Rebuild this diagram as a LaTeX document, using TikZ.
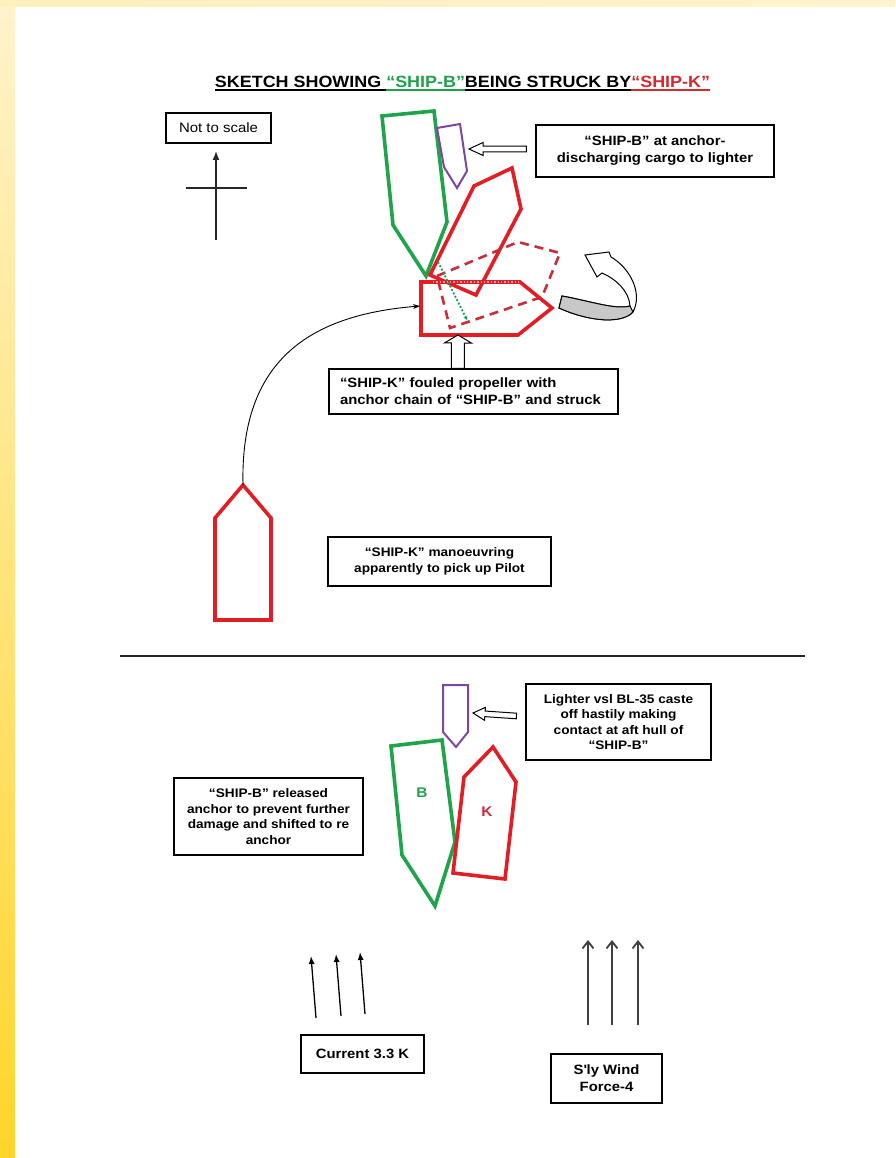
\documentclass[tikz,border=0pt]{standalone}
\usepackage{fontspec}
\setmainfont{Liberation Sans}[FakeStretch=1.1]
\usepackage{tikz}
\usetikzlibrary{arrows.meta,calc,positioning}
\definecolor{ShipGreen}{RGB}{30,165,75}
\definecolor{ShipRed}{RGB}{226,30,36}
\definecolor{GhostRed}{RGB}{200,45,60}
\definecolor{LighterPurple}{RGB}{125,70,160}
\definecolor{PageYellow}{RGB}{255,213,42}
\definecolor{PaleYellow}{RGB}{255,243,204}
\definecolor{BandGrey}{RGB}{200,200,200}
\definecolor{TitleGreen}{RGB}{34,160,75}
\definecolor{TitleRed}{RGB}{215,40,47}
\newcommand{\titlerule}[1]{\vtop{\hbox{#1}\kern1.2pt\hrule height1.7pt}}
\newcommand{\blockarrow}[5]{%
  \coordinate (headbase) at ($(#2)!#3!(#1)$);
  \draw[line width=1pt,fill=white] (#2) -- ($(headbase)!#4!90:(#1)$) -- ($(headbase)!#5!90:(#1)$)
    -- ($(#1)!#5!-90:(#2)$) -- ($(#1)!#5!90:(#2)$) -- ($(headbase)!#5!-90:(#1)$)
    -- ($(headbase)!#4!-90:(#1)$) -- cycle;}

\begin{document}
\begin{tikzpicture}[x=1pt,y=-1pt,
  labelbox/.style={draw,line width=1.1pt,align=center,inner sep=3pt,
    font=\fontsize{13.5}{17}\selectfont\bfseries},
  smallbox/.style={labelbox,font=\fontsize{12.4}{15.5}\selectfont\bfseries},
  notebox/.style={draw,line width=1.1pt,inner sep=3pt,font=\fontsize{13.6}{16}\selectfont},
  hull/.style={line width=3.6pt,line join=miter},
  ghosthull/.style={line width=2.6pt,GhostRed,dash pattern=on 9pt off 6pt},
  lighterhull/.style={line width=2pt,LighterPurple},
  current/.style={line width=1.3pt,-{Latex[length=8pt,width=6pt]}},
  wind/.style={line width=1.8pt,black!75,-{Straight Barb[length=7pt,width=11pt]}}]
  \useasboundingbox (0,0) rectangle (895,1158);
  \fill[white] (0,0) rectangle (895,1158);
  \shade[top color=PaleYellow,bottom color=PageYellow] (0,0) rectangle (15,1158);
  \shade[left color=PaleYellow!90!PageYellow,right color=PaleYellow] (0,0) rectangle (895,7);

  \node[anchor=base,font=\fontsize{16.3}{20}\selectfont\bfseries] (title) at (462.5,87.5)
    {\titlerule{SKETCH SHOWING }\textcolor{TitleGreen}{\titlerule{“SHIP-B”}}\titlerule{BEING STRUCK BY}\textcolor{TitleRed}{\titlerule{“SHIP-K”}}};

  \node[notebox,minimum width=105pt,minimum height=30pt] (notscale) at (218.5,128) {Not to scale};
  \draw[line width=1.3pt,black!85,-{Latex[length=9pt,width=7pt]}] (216,240) -- (216,151);
  \draw[line width=1.3pt,black!85] (186,188) -- (247,188);

  \draw[hull,ShipGreen] (382,116) -- (434,111) -- (447,222) -- (426,276) -- (393,225) -- cycle;
  \draw[lighterhull] (437,128) -- (460,124) -- (467,171) -- (457,188) -- (444,167) -- cycle;
  \draw[hull,ShipRed] (430,275) -- (474,186) -- (512,168) -- (521,209) -- (476,295) -- cycle;
  \draw[ghosthull] (437,276) -- (518,242) -- (560,253) -- (542,297) -- (450,328) -- cycle;
  \draw[hull,ShipRed] (421,282) -- (520,282) -- (552,308) -- (518,335) -- (421,335) -- cycle;
  \draw[GhostRed!45,dotted,line width=1.4pt] (433,282) -- (520,282);
  \draw[ShipGreen!70!teal,dotted,line width=1.8pt,-{Stealth[length=4pt,width=4pt]}] (438,262) -- (467,320);

  \node[labelbox,minimum width=238pt,minimum height=52pt] (lblanchor) at (655,151)
    {“SHIP-B” at anchor-\\discharging cargo to lighter};
  \coordinate (lightertip) at (469,149);
  \coordinate (anchortail) at ($(lblanchor.west)+(-9,-2)$);
  \blockarrow{anchortail}{lightertip}{14pt}{6.5pt}{2.8pt}

  \draw[line width=1pt,fill=white] (630,306) .. controls (629,291) and (616,279) .. (602,273)
    -- (597,277) -- (585,255) -- (609,252) -- (611,257)
    .. controls (630,268) and (643,293) .. (633,312)
    .. controls (622,324) and (590,322) .. (559,308) -- (562,296)
    .. controls (590,301) and (615,310) .. (630,306) -- cycle;
  \draw[line width=1pt,fill=BandGrey] (562,296) .. controls (590,301) and (615,310) .. (630,306)
    -- (633,312) .. controls (622,324) and (590,322) .. (559,308) -- cycle;

  \node[labelbox,align=left,text width=267pt,inner xsep=11pt,minimum height=45pt] (lblfouled) at (473.5,391.5)
    {“SHIP-K” fouled propeller with\\anchor chain of “SHIP-B” and struck};
  \coordinate (fouledtip) at (458,335);
  \coordinate (fouledtail) at ($(lblfouled.north west)!0.446!(lblfouled.north east)$);
  \blockarrow{fouledtail}{fouledtip}{8pt}{13.5pt}{6.5pt}

  \coordinate (kbow) at (243,485);
  \coordinate (kstern) at (420,306);
  \draw[hull,ShipRed] (215,620) -- (215,518) -- (kbow) -- (271,518) -- (271,620) -- cycle;
  \draw[line width=0.9pt,-{Stealth[length=7pt,width=5pt]}] (kbow) .. controls (240,360) and (310,315) .. (kstern);

  \node[smallbox,minimum width=223pt,minimum height=49pt] (lblpilot) at (439.5,561.5)
    {“SHIP-K” manoeuvring\\apparently to pick up Pilot};

  \draw[line width=2pt,black!85] (120,656) -- (805,656);

  \draw[lighterhull] (443,685) -- (468,685) -- (468,732) -- (456,747) -- (443,732) -- cycle;
  \draw[hull,ShipGreen] (391,746) -- (442,740) -- (455,842) -- (435,906) -- (402,855) -- cycle;
  \draw[hull,ShipRed] (453,873) -- (464,777) -- (493,747) -- (516,782) -- (505,879) -- cycle;
  \node[font=\fontsize{14}{16}\selectfont\bfseries,TitleGreen] (nameB) at (422,793) {B};
  \node[font=\fontsize{14}{16}\selectfont\bfseries,GhostRed] (nameK) at (487,812) {K};

  \node[smallbox,minimum width=185pt,minimum height=76pt] (lbllighter) at (618.5,722)
    {Lighter vsl BL-35 caste\\off hastily making\\contact at aft hull of\\“SHIP-B”};
  \coordinate (lighterbow) at (473,713);
  \coordinate (lightertail) at ($(lbllighter.west)+(-9,-6)$);
  \blockarrow{lightertail}{lighterbow}{12pt}{6.5pt}{2.8pt}

  \node[smallbox,minimum width=189pt,minimum height=77pt] (lblreleased) at (268.5,816.5)
    {“SHIP-B” released\\anchor to prevent further\\damage and shifted to re\\anchor};

  \foreach \x/\y in {316/1018,341/1016,365/1014}
    \draw[current] (\x,\y) -- ++(-5,-62);
  \foreach \x in {588,612,638}
    \draw[wind] (\x,1025) -- (\x,940);

  \node[labelbox,minimum width=123pt,minimum height=38pt] (lblcurrent) at (362.5,1054) {Current 3.3 K};
  \node[labelbox,minimum width=111pt,minimum height=49pt] (lblwind) at (606.5,1078.5) {S\textquotesingle ly Wind\\Force-4};
\end{tikzpicture}
\end{document}
